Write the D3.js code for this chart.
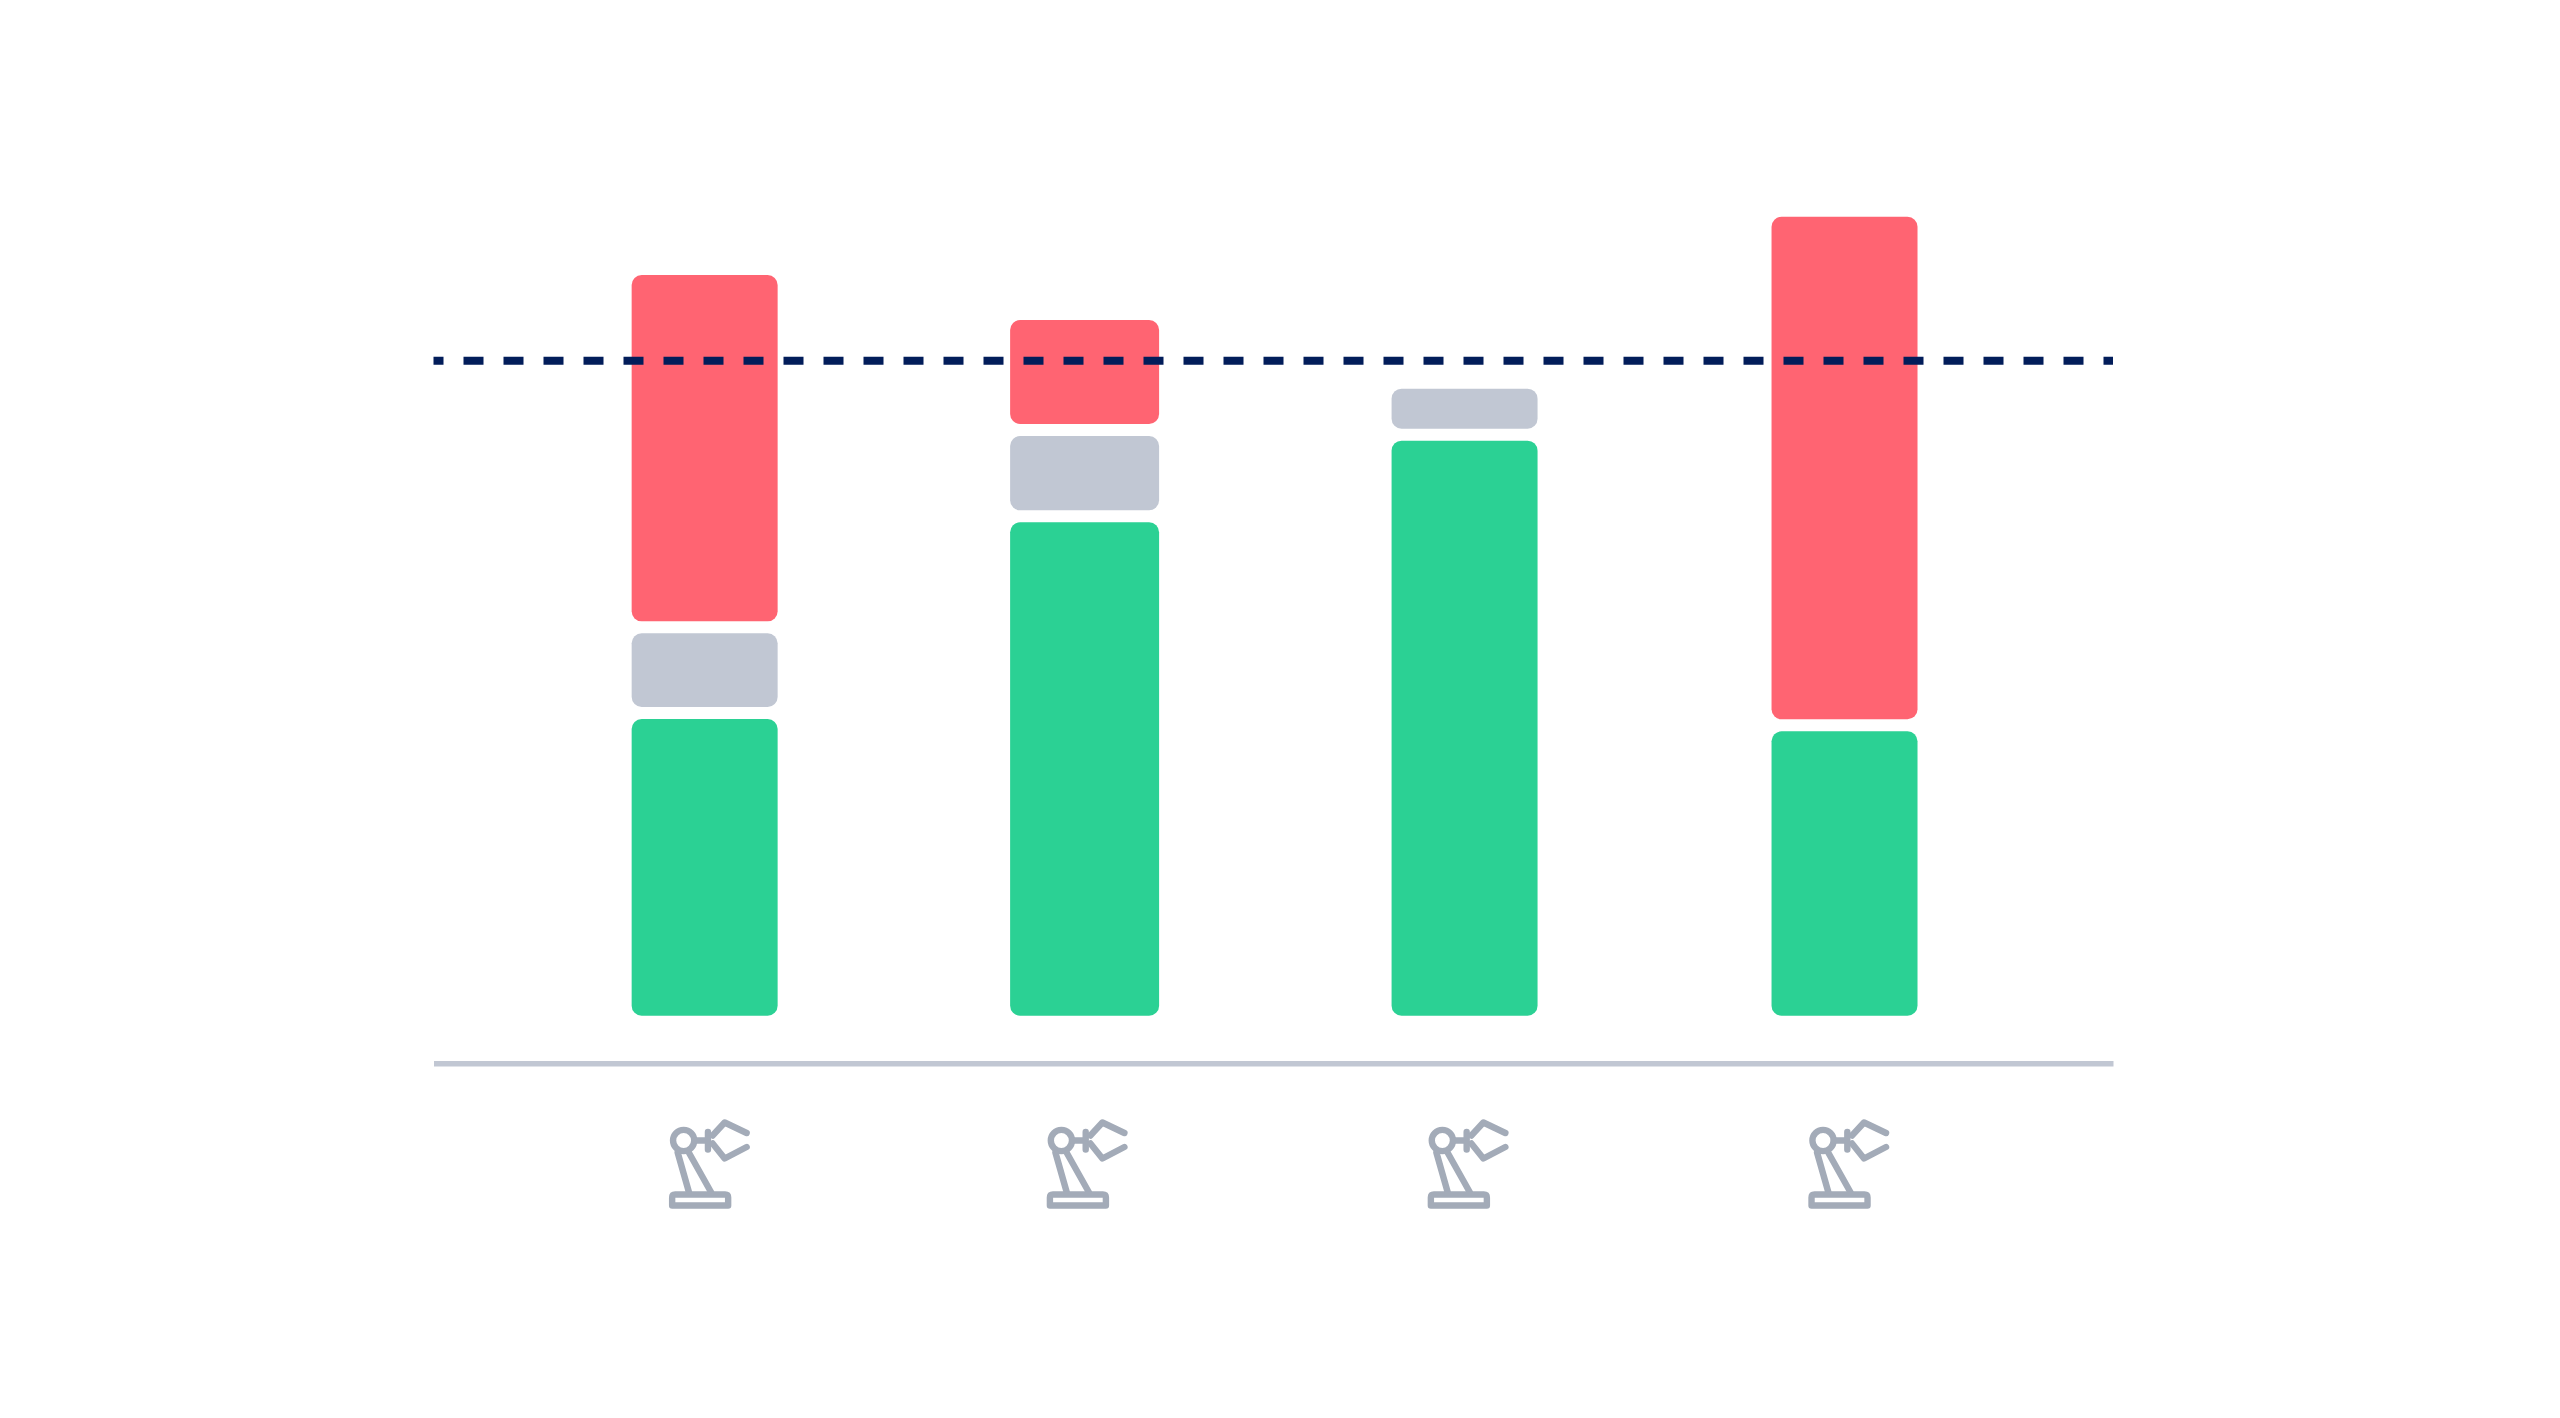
<!DOCTYPE html>
<html>
<head>
<meta charset="utf-8">
<script src="https://cdn.jsdelivr.net/npm/d3@7"></script>
<style>
html,body{margin:0;padding:0;background:#fff;}
svg{display:block;}
</style>
</head>
<body>
<svg id="chart" width="2560" height="1418" role="img" aria-label="Stacked bars for four machines against a target line"></svg>
<script>
// Data, as percent of the dashed target line
const categories = ["Robot 1", "Robot 2", "Robot 3", "Robot 4"];
const green = [45.30, 75.33, 87.79, 43.42];
const gray  = [13.08, 13.18, 7.94, 0];
const red   = [54.70, 17.71, 0, 78.56];
const target = 100;

const seriesKeys = ["green", "gray", "red"];
const colors = {green: "#2bd194", gray: "#c1c7d3", red: "#ff6472"};
const rows = categories.map((c, i) => ({category: c, green: green[i], gray: gray[i], red: red[i]}));

// Layout
const W = 2560, H = 1418;
const left = 433.5, right = 2113;
const baseY = 1015.7, targetY = 360.7;
const segmentGap = 12, cornerRadius = 10;
const axisY = 1063.3;
// Small per-column nudges seen in the reference (bar 2 is slightly wider; icons sit slightly off-grid)
const barGrow = {"Robot 2": 3};
const iconNudge = {"Robot 2": -2.2, "Robot 3": -1.2, "Robot 4": -0.5};

const x = d3.scaleBand().domain(categories).range([left, right])
  .paddingInner(0.6158).paddingOuter(0.518).align(0.5034);
const y = d3.scaleLinear().domain([0, target]).range([baseY, targetY]);

const svg = d3.select("#chart");
svg.append("rect").attr("width", W).attr("height", H).attr("fill", "#fff");

// Stacked bars
const stacked = d3.stack().keys(seriesKeys)(rows);
svg.append("g").attr("class", "bars")
  .selectAll("g").data(stacked).join("g")
  .attr("fill", s => colors[s.key])
  .selectAll("rect")
  .data(s => s.filter(d => d[1] > d[0]))
  .join("rect")
  .attr("x", d => x(d.data.category) - (barGrow[d.data.category] || 0) / 2)
  .attr("width", d => x.bandwidth() + (barGrow[d.data.category] || 0))
  .attr("y", d => y(d[1]))
  .attr("height", d => y(d[0]) - y(d[1]) - (d[0] > 0 ? segmentGap : 0))
  .attr("rx", cornerRadius);

// Dashed target line
svg.append("line").attr("class", "target")
  .attr("x1", left).attr("x2", right)
  .attr("y1", y(target)).attr("y2", y(target))
  .attr("stroke", "#021d5a").attr("stroke-width", 8)
  .attr("stroke-dasharray", "20 20").attr("stroke-dashoffset", 10);

// Baseline: category axis with its labels replaced by icons
const axis = svg.append("g").attr("class", "axis")
  .attr("transform", `translate(0,${axisY})`)
  .call(d3.axisBottom(x).tickSize(0).tickSizeOuter(0).tickFormat(""));
axis.select(".domain").attr("stroke", "#c1c7d3").attr("stroke-width", 5.4);

// Robot arm glyph, local origin at the band centre
const iconColor = "#a3abb8";
const icons = svg.append("g").attr("class", "icons")
  .selectAll("g").data(categories).join("g")
  .attr("transform", c => `translate(${x(c) + x.bandwidth() / 2 - 21 + (iconNudge[c] || 0)},1140.5)`)
  .attr("fill", "none").attr("stroke", iconColor).attr("stroke-width", 6.4)
  .attr("stroke-linecap", "round").attr("stroke-linejoin", "round");
icons.append("circle").attr("r", 10.6);
icons.append("path").attr("d", "M-6 12 L5.4 52 M4.6 11 L27.6 52");
icons.append("path").attr("d", "M11 0 H24 M24.3 -8.5 V9");
icons.append("path").attr("d", "M29 -5 L41 -18 L63 -7.5 M29 3 L41 18 L63 6.5");
icons.append("path").attr("stroke-linecap", "butt")
  .attr("d", "M-11.5 65 V57 Q-11.5 54 -8.5 54 H41.5 Q44.5 54 44.5 57 V65 Z");
</script>
</body>
</html>
